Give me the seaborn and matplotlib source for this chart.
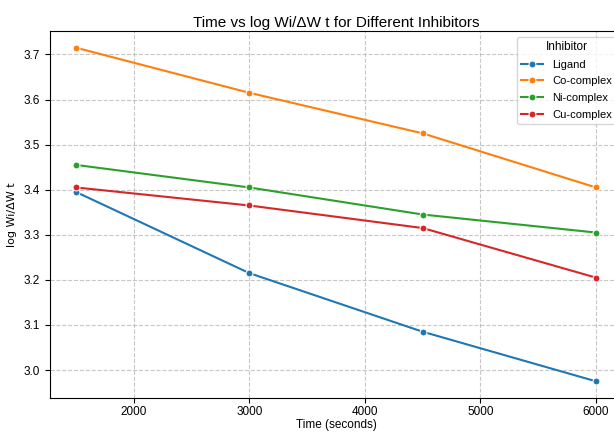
import pandas as pd
import matplotlib
matplotlib.use("Agg")
import matplotlib.pyplot as plt
import seaborn as sns

# Values
time_s = [1500, 3000, 4500, 6000]
ligand = [3.395, 3.215, 3.085, 2.975]
co_complex = [3.715, 3.615, 3.525, 3.405]
ni_complex = [3.455, 3.405, 3.345, 3.305]
cu_complex = [3.405, 3.365, 3.315, 3.205]
inhibitors = ['Ligand', 'Co-complex', 'Ni-complex', 'Cu-complex']

# Long format table for seaborn
series = [ligand, co_complex, ni_complex, cu_complex]
rows = []
for name, vals in zip(inhibitors, series):
    for t, v in zip(time_s, vals):
        rows.append({'Time': t, 'logW': v, 'Inhibitor': name})
data = pd.DataFrame(rows)

plt.rcParams['font.family'] = ['Liberation Sans', 'DejaVu Sans']

fig = plt.figure(figsize=(6.14, 4.32), dpi=100)
# axes run a little past the right edge, like the reference crop
ax = fig.add_axes([0.0814, 0.0787, 0.9316, 0.8495])

sns.lineplot(
    data=data,
    x='Time',
    y='logW',
    hue='Inhibitor',
    hue_order=inhibitors,
    palette='tab10',
    marker='o',
    markersize=5,
    linewidth=1.5,
    ax=ax,
)

ax.set_title('Time vs log Wi/\u0394W t for Different Inhibitors', fontsize=11, pad=3)
ax.set_xlabel('Time (seconds)', fontsize=8.5, labelpad=1)
ax.set_ylabel('log Wi/\u0394W t', fontsize=8, family=['DejaVu Sans'], labelpad=5)
ax.tick_params(axis='both', labelsize=8.5)
ax.tick_params(axis='x', pad=2)
ax.grid(True, linestyle='--', alpha=0.7)

ax.legend(title='Inhibitor', loc='upper right', fontsize=8, title_fontsize=8.5,
          labelspacing=0.6)

plt.savefig('out.png', dpi=100)
